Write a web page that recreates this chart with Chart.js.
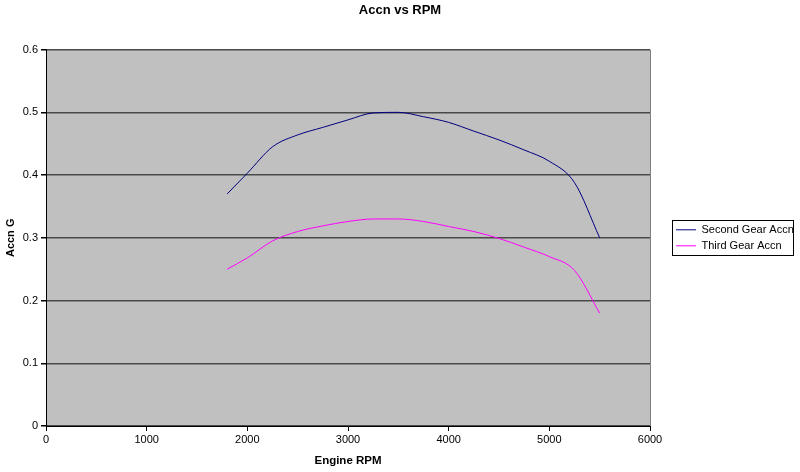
<!DOCTYPE html>
<html>
<head>
<meta charset="utf-8">
<title>Accn vs RPM</title>
<script src="https://cdn.jsdelivr.net/npm/chart.js@4.4.1/dist/chart.umd.min.js"></script>
<style>
  body { margin: 0; background: #fff; }
  #wrap { width: 800px; height: 472px; }
</style>
</head>
<body>
<div id="wrap"><canvas id="myChart"></canvas></div>
<script>
'use strict'

// values
let rpm = [1800, 2000, 2250, 2500, 2750, 3000, 3250, 3500, 3750, 4000, 4250, 4500, 4750, 5000, 5250, 5500];
let secondGear = [0.37, 0.403, 0.445, 0.464, 0.476, 0.488, 0.499, 0.500, 0.493, 0.484, 0.470, 0.456, 0.440, 0.422, 0.388, 0.30];
let thirdGear = [0.25, 0.268, 0.295, 0.310, 0.319, 0.326, 0.330, 0.330, 0.326, 0.318, 0.310, 0.299, 0.285, 0.270, 0.248, 0.18];

let xTicks = [0, 1000, 2000, 3000, 4000, 5000, 6000];
let yTicks = [0, 0.1, 0.2, 0.3, 0.4, 0.5, 0.6];
let seriesNames = ['Second Gear Accn', 'Third Gear Accn'];

function toPoints(values) {
  return rpm.map((r, i) => ({x: r, y: values[i]}));
}

Chart.defaults.font.family = '"Liberation Sans", Arial, sans-serif';
Chart.defaults.color = '#000';

// grey plot area with a grey right edge, like the old excel charts
let plotBack = {
  id: 'plotBack',
  beforeDraw(chart) {
    let a = chart.chartArea;
    let ctx = chart.ctx;
    ctx.save();
    ctx.fillStyle = '#c0c0c0';
    ctx.fillRect(a.left, a.top, a.right - a.left, a.bottom - a.top);
    ctx.restore();
  },
  afterDraw(chart) {
    let a = chart.chartArea;
    let ctx = chart.ctx;
    ctx.save();
    ctx.strokeStyle = '#808080';
    ctx.lineWidth = 1;
    ctx.beginPath();
    ctx.moveTo(a.right + 0.5, a.top);
    ctx.lineTo(a.right + 0.5, a.bottom);
    ctx.stroke();
    ctx.restore();
  }
};

// legend sits a bit away from the plot and gets a thin box round it
let legendBox = {
  id: 'legendBox',
  beforeLayout(chart) {
    let lg = chart.legend;
    if (lg && !lg._wide) {
      let fit = lg.fit;
      lg.fit = function () {
        fit.call(this);
        this.width = 150;
      };
      lg._wide = true;
    }
  },
  afterLayout(chart) {
    chart.legend.left += 21;
  },
  afterDraw(chart) {
    let boxes = chart.legend.legendHitBoxes;
    if (!boxes || !boxes.length) return;
    let l = Math.min(...boxes.map(b => b.left));
    let r = Math.max(...boxes.map(b => b.left + b.width));
    let t = Math.min(...boxes.map(b => b.top));
    let btm = Math.max(...boxes.map(b => b.top + b.height));
    let ctx = chart.ctx;
    ctx.save();
    ctx.strokeStyle = '#000';
    ctx.lineWidth = 1;
    ctx.strokeRect(Math.round(l - 4) + 0.5, Math.round(t - 4.5) + 0.5, Math.round(r - l + 3), Math.round(btm - t + 8));
    ctx.restore();
  }
};

const data = {
  datasets: [{
    label: seriesNames[0],
    data: toPoints(secondGear),
    borderColor: '#000080',
    backgroundColor: '#000080',
    borderWidth: 1,
    pointRadius: 0,
    cubicInterpolationMode: 'monotone'
  },
  {
    label: seriesNames[1],
    data: toPoints(thirdGear),
    borderColor: '#ff00ff',
    backgroundColor: '#ff00ff',
    borderWidth: 1,
    pointRadius: 0,
    cubicInterpolationMode: 'monotone'
  }]
};

const config = {
  type: 'line',
  data: data,
  options: {
    responsive: true,
    maintainAspectRatio: false,
    animation: false,
    layout: { padding: 0 },
    plugins: {
      title: {
        display: true,
        text: 'Accn vs RPM',
        font: { size: 13, weight: 'bold' },
        color: '#000',
        padding: { top: 3, bottom: 31 }
      },
      legend: {
        position: 'right',
        fullSize: false,
        labels: {
          usePointStyle: true,
          pointStyle: 'line',
          pointStyleWidth: 20,
          padding: 5,
          color: '#000',
          font: { size: 11 }
        }
      },
      tooltip: { enabled: false }
    },
    scales: {
      x: {
        type: 'linear',
        min: 0,
        max: 6000,
        afterBuildTicks: s => { s.ticks = xTicks.map(v => ({value: v})); },
        afterFit: s => { s.height = 46; },
        grid: { drawOnChartArea: false, tickLength: 5, tickColor: '#000', color: '#000' },
        border: { color: '#000', width: 1 },
        ticks: {
          color: '#000',
          font: { size: 11 },
          padding: 2,
          maxRotation: 0,
          autoSkip: false,
          callback: v => String(v)
        },
        title: {
          display: true,
          text: 'Engine RPM',
          color: '#000',
          font: { size: 11.5, weight: 'bold' },
          padding: { top: 0, bottom: 4 }
        }
      },
      y: {
        min: 0,
        max: 0.6,
        afterBuildTicks: s => { s.ticks = yTicks.map(v => ({value: v})); },
        afterFit: s => { s.width = 46; },
        grid: { color: '#4a4a4a', lineWidth: 1.5, tickLength: 5, tickColor: '#000' },
        border: { color: '#000', width: 1 },
        ticks: {
          color: '#000',
          font: { size: 11 },
          padding: 3,
          callback: v => String(Math.round(v * 10) / 10)
        },
        title: {
          display: true,
          text: 'Accn G',
          color: '#000',
          font: { size: 11, weight: 'bold' },
          padding: { top: 4, bottom: 0 }
        }
      }
    }
  },
  plugins: [plotBack, legendBox]
};

var myChart = new Chart(document.getElementById('myChart'), config);
</script>
</body>
</html>
